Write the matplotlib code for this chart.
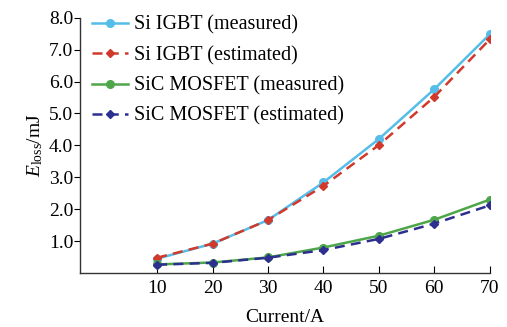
import matplotlib
matplotlib.use("Agg")
import matplotlib.pyplot as plt

# data
current = [10, 20, 30, 40, 50, 60, 70]
si_meas = [0.45, 0.92, 1.66, 2.84, 4.20, 5.76, 7.48]
si_est = [0.48, 0.92, 1.66, 2.73, 4.01, 5.52, 7.32]
sic_meas = [0.27, 0.33, 0.49, 0.80, 1.17, 1.67, 2.30]
sic_est = [0.26, 0.32, 0.48, 0.72, 1.07, 1.55, 2.12]
yticks = [1.0, 2.0, 3.0, 4.0, 5.0, 6.0, 7.0, 8.0]

plt.rcParams['font.family'] = ['Liberation Serif', 'DejaVu Serif']
plt.rcParams['mathtext.fontset'] = 'custom'
plt.rcParams['mathtext.rm'] = 'Liberation Serif'
plt.rcParams['mathtext.it'] = 'Liberation Serif:italic'

fig = plt.figure(figsize=(5.07, 3.27), dpi=100)
ax = fig.add_axes([0.158, 0.165, 0.808, 0.781])

ax.plot(current, si_meas, '-o', color='#55bde8', lw=1.8, ms=5.5, label='Si IGBT (measured)')
ax.plot(current, si_est, '--D', color='#d0392b', lw=1.8, ms=4.5, label='Si IGBT (estimated)', dashes=(4, 2.5))
ax.plot(current, sic_meas, '-o', color='#4ea64a', lw=1.8, ms=5.5, label='SiC MOSFET (measured)')
ax.plot(current, sic_est, '--D', color='#2c2f8f', lw=1.8, ms=4.5, label='SiC MOSFET (estimated)', dashes=(4, 2.5))

ax.set_xlim(-3.9, 70)
ax.set_ylim(0, 8)
ax.set_xticks(current)
ax.set_yticks(yticks)
ax.set_yticklabels([f'{v:.1f}' for v in yticks])
ax.tick_params(axis='x', direction='in', length=5, labelsize=14, pad=5)
ax.tick_params(axis='y', direction='out', length=4, labelsize=14, pad=1)
for s in ['top', 'right']:
    ax.spines[s].set_visible(False)
for s in ['left', 'bottom']:
    ax.spines[s].set_linewidth(1.0)
    ax.spines[s].set_color('#333333')

ax.set_xlabel('Current/A', fontsize=14, labelpad=9)
ax.set_ylabel(r'$E_{\mathrm{loss}}$/mJ', fontsize=14, labelpad=3)

ax.legend(loc='upper left', frameon=False, fontsize=14.5, handlelength=1.8,
          handletextpad=0.3, labelspacing=0.55, borderaxespad=0.2,
          bbox_to_anchor=(0.0, 1.055))

fig.savefig('out.png', dpi=100)
